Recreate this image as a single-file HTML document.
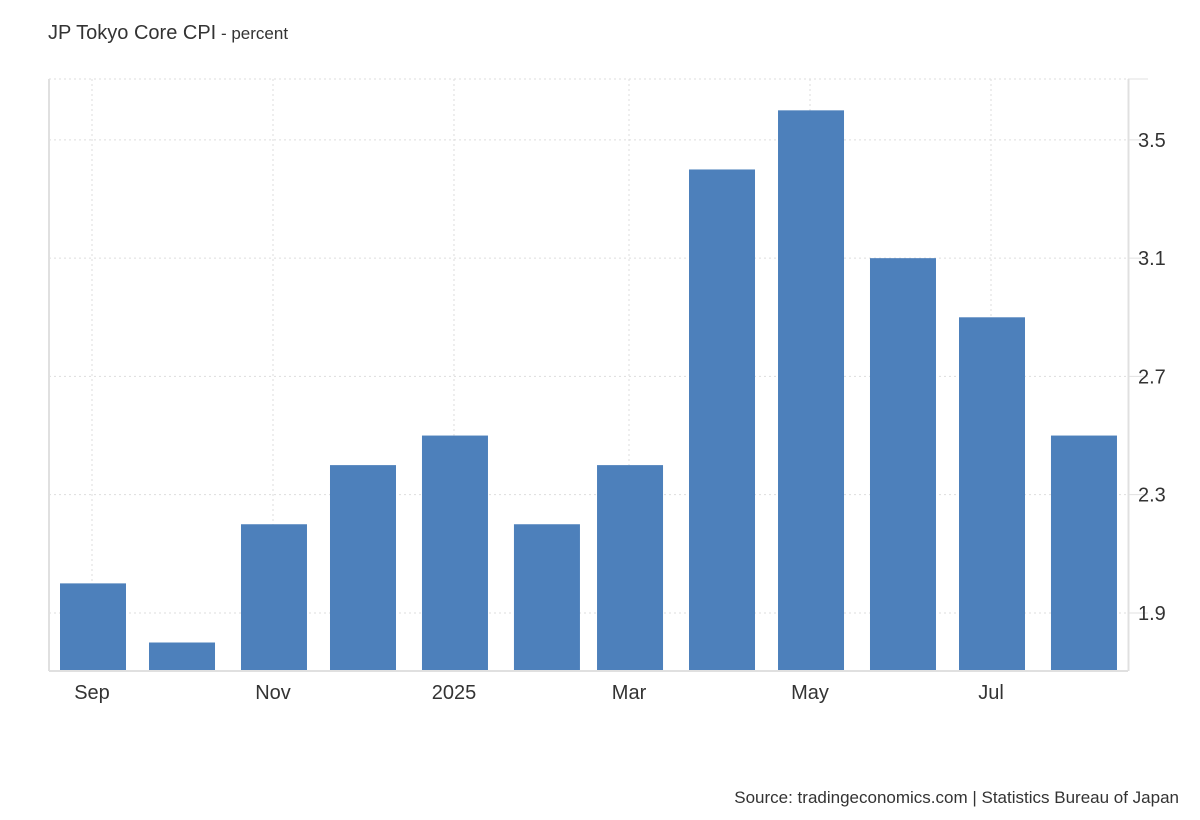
<!DOCTYPE html>
<html><head><meta charset="utf-8"><style>
body{margin:0;background:#fff;font-family:"Liberation Sans",Arial,sans-serif}
svg{display:block}
</style></head><body>
<svg width="1200" height="820">
<text x="48" y="39" font-size="20" fill="#333">JP Tokyo Core CPI<tspan font-size="17" fill="#333"> - percent</tspan></text>
<g id="grid"></g>
<g id="bars"></g>
<g id="axes"></g>
<text x="1179" y="803" font-size="17" fill="#333" text-anchor="end">Source: tradingeconomics.com | Statistics Bureau of Japan</text>
</svg>
<script>
const months=["2024-09","2024-10","2024-11","2024-12","2025-01","2025-02","2025-03","2025-04","2025-05","2025-06","2025-07","2025-08"];
const values=[2.0,1.8,2.2,2.4,2.5,2.2,2.4,3.4,3.6,3.1,2.9,2.5];
const yTicks=[1.9,2.3,2.7,3.1,3.5];
const xTickMonths=["2024-09","2024-11","2025-01","2025-03","2025-05","2025-07"];
const xTickLabels=["Sep","Nov","2025","Mar","May","Jul"];
const NS="http://www.w3.org/2000/svg";
const L=49,R=1128,T=79,B=670;
const yMin=1.707,yMax=3.706;
const y=v=>B-(v-yMin)/(yMax-yMin)*(B-T);
const d0=Date.UTC(2024,8,1);
const x=m=>{const [a,b]=m.split("-").map(Number);return 93+(Date.UTC(a,b-1,1)-d0)/864e5*2.967;};
function mk(t,a,p){const e=document.createElementNS(NS,t);for(const k in a)e.setAttribute(k,a[k]);p.appendChild(e);return e;}
const g=document.getElementById("grid"),bg=document.getElementById("bars"),ax=document.getElementById("axes");
yTicks.concat([yMax]).forEach(v=>{const l=mk("line",{x1:L,x2:R,y1:y(v),y2:y(v),stroke:"#ddd","stroke-dasharray":"2,3"},g);
const t=mk("line",{x1:R,x2:R+20,y1:y(v),y2:y(v),stroke:"#e0e0e0"},ax);});
xTickMonths.forEach((m,i)=>{const l=mk("line",{x1:x(m)-1,x2:x(m)-1,y1:T,y2:B,stroke:"#ddd","stroke-dasharray":"2,3"},g);
const t=mk("text",{x:x(m)-1,y:699,"font-size":20,fill:"#333","text-anchor":"middle"},ax);t.textContent=xTickLabels[i];});
yTicks.forEach(v=>{const t=mk("text",{x:1138,y:y(v)+7,"font-size":20,fill:"#333"},ax);t.textContent=v.toFixed(1);});
mk("line",{x1:L,x2:L,y1:T,y2:B+1,stroke:"#e0e0e0","stroke-width":2},ax);
mk("line",{x1:R+0.5,x2:R+0.5,y1:T,y2:B+1,stroke:"#e0e0e0","stroke-width":2},ax);
mk("line",{x1:L,x2:R,y1:B+1,y2:B+1,stroke:"#e0e0e0","stroke-width":2},ax);
months.forEach((m,i)=>{const r=mk("rect",{x:x(m)-33,y:y(values[i]),width:66,height:B-y(values[i]),fill:"#4d80bb"},bg);});
</script>
</body></html>
